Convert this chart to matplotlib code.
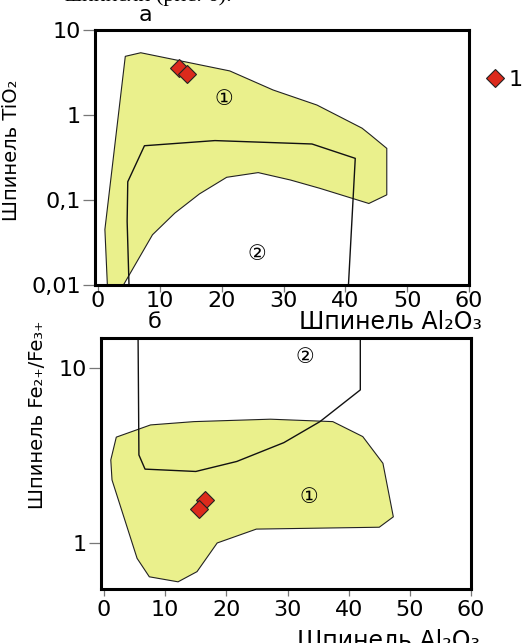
import numpy as np
import matplotlib
matplotlib.use('Agg')
from matplotlib import pyplot as plt

plt.rcParams['font.family'] = ['DejaVu Sans']

# --- panel a: TiO2 vs Al2O3 ---
# field 1 (yellow)
a_f1_x = [1.5, 1.1, 4.4, 6.9, 21.3, 28.3, 35.4, 42.7, 44.1, 46.7, 46.7, 43.8,
          35.9, 31.1, 25.9, 20.8, 16.4, 12.4, 8.8, 4.1]
a_f1_y = [0.01, 0.045, 4.9, 5.4, 3.3, 1.97, 1.31, 0.70, 0.58, 0.405, 0.115, 0.091,
          0.137, 0.172, 0.21, 0.185, 0.118, 0.070, 0.039, 0.01]
# field 2 (outline)
a_f2_x = [5.0, 4.7, 4.8, 7.5, 18.9, 34.6, 41.6, 40.5]
a_f2_y = [0.01, 0.056, 0.164, 0.435, 0.50, 0.456, 0.309, 0.01]
# samples
a_pts_x = [13.1, 14.4]
a_pts_y = [3.6, 3.03]

# --- panel b: Fe2+/Fe3+ vs Al2O3 ---
b_f1_x = [2.0, 7.6, 14.7, 27.2, 37.4, 42.3, 45.6, 47.3, 45.0, 24.9, 18.5, 15.2,
          12.1, 7.4, 5.4, 1.3, 1.1]
b_f1_y = [4.02, 4.72, 4.93, 5.09, 4.93, 4.05, 2.85, 1.41, 1.23, 1.20, 1.00, 0.686,
          0.60, 0.641, 0.817, 2.29, 2.98]
b_f2_x = [5.5, 5.7, 6.7, 15.0, 21.7, 29.4, 35.3, 41.9, 41.9]
b_f2_y = [30, 3.18, 2.64, 2.56, 2.92, 3.74, 4.93, 7.48, 30]
b_pts_x = [16.5, 15.5]
b_pts_y = [1.76, 1.56]

x_ticks = [0, 10, 20, 30, 40, 50, 60]
a_yticks = [0.01, 0.1, 1, 10]
a_ylabels = ['0,01', '0,1', '1', '10']
b_yticks = [1, 10]
b_ylabels = ['1', '10']

yellow = '#eaf08c'
red = '#dc2a1c'

fig = plt.figure(figsize=(5.29, 6.43), dpi=100)
ax1 = fig.add_axes([95/529, 1-285/643, 374/529, 255/643])
ax2 = fig.add_axes([101/529, 1-589/643, 370/529, 251/643])

def style(ax, xpad):
    ax.set_yscale('log')
    ax.set_xlim(-0.5, 60)
    ax.set_xticks(x_ticks)
    ax.minorticks_off()
    for s in ax.spines.values():
        s.set_linewidth(2.2)
    ax.tick_params(axis='y', direction='out', length=9, width=0.9, color='#777777',
                   labelsize=16, pad=1)
    ax.tick_params(axis='x', direction='out', length=5, width=0.9, color='#777777',
                   labelsize=16, pad=xpad)

ax1.fill(a_f1_x, a_f1_y, facecolor=yellow, edgecolor='#222222', lw=0.8)
ax1.plot(a_f2_x, a_f2_y, color='#111111', lw=1.0)
pts = ax1.plot(a_pts_x, a_pts_y, 'D', ms=9, mfc=red, mec='#222222', mew=0.8,
               ls='none', label='1')[0]
ax1.text(20.4, 1.54, '①', fontsize=15, ha='center', va='center')
ax1.text(25.6, 0.023, '②', fontsize=15, ha='center', va='center')
style(ax1, -1)
ax1.set_ylim(0.01, 10)
ax1.set_yticks(a_yticks)
ax1.set_yticklabels(a_ylabels)
ax1.set_ylabel('Шпинель TiO₂', fontsize=14)
ax1.yaxis.set_label_coords(-0.197, 0.53)

ax2.fill(b_f1_x, b_f1_y, facecolor=yellow, edgecolor='#222222', lw=0.8)
ax2.plot(b_f2_x, b_f2_y, color='#111111', lw=1.0)
ax2.plot(b_pts_x, b_pts_y, 'D', ms=9, mfc=red, mec='#222222', mew=0.8, ls='none')
ax2.text(33.5, 1.84, '①', fontsize=15, ha='center', va='center')
ax2.text(32.8, 11.6, '②', fontsize=15, ha='center', va='center')
style(ax2, 3)
ax2.set_ylim(0.546, 14.8)
ax2.set_yticks(b_yticks)
ax2.set_yticklabels(b_ylabels)
ax2.set_ylabel('Шпинель Fe₂₊/Fe₃₊', fontsize=14)
ax2.yaxis.set_label_coords(-0.146, 0.693)

# titles, axis captions
fig.text(145/529, 1-15/643, 'а', fontsize=16, ha='center', va='center')
fig.text(155/529, 1-322/643, 'б', fontsize=16, ha='center', va='center')
fig.text(482/529, 1-322/643, 'Шпинель Al₂O₃', fontsize=17, ha='right', va='center')
fig.text(297/529, 1-641/643, 'Шпинель Al₂O₃ .', fontsize=17, ha='left', va='center')
fig.text(65/529, 1+4/643, 'шпинели (рис. 6).', fontsize=16, ha='left', va='center',
         family='Liberation Serif')

fig.legend(handles=[pts], loc='center left', bbox_to_anchor=(484/529, 1-80/643),
           frameon=False, fontsize=16, handletextpad=0.1, handlelength=1.0,
           borderaxespad=0, borderpad=0)

fig.savefig('out.png', dpi=100)
